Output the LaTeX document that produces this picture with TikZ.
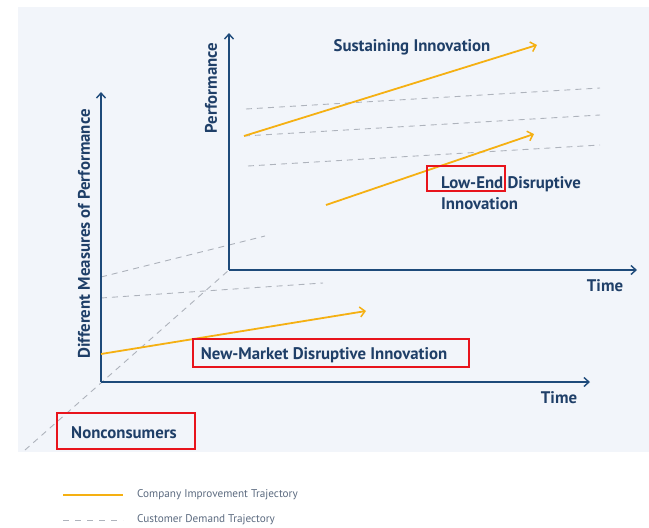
\documentclass[tikz,border=0pt]{standalone}
\usepackage{fontspec}
\setmainfont{PT Sans}
\usetikzlibrary{arrows.meta}
\definecolor{navy}{HTML}{1E4A7A}
\definecolor{txt}{HTML}{1F3F68}
\definecolor{gold}{HTML}{F5B012}
\definecolor{dashgray}{HTML}{AEB3BC}
\definecolor{panel}{HTML}{F2F5FA}
\definecolor{redbox}{HTML}{E8141C}
\definecolor{legtxt}{HTML}{5C6B80}
\begin{document}
\begin{tikzpicture}[x=1pt,y=-1pt,
  axis/.style={draw=navy,line width=1.6pt,-{Straight Barb[length=5pt,width=9pt,line width=1.4pt]}},
  traj/.style={draw=gold,line width=1.8pt,-{Straight Barb[length=5pt,width=10pt,line width=1.5pt]}},
  demand/.style={draw=dashgray,line width=0.9pt,dash pattern=on 6pt off 5pt},
  lbl/.style={font=\fontsize{16.8}{18}\selectfont\bfseries,text=txt,inner sep=0pt},
  rbox/.style={draw=redbox,line width=2pt},
  leg/.style={font=\fontsize{11.2}{13}\selectfont,text=legtxt,inner sep=0pt,anchor=west}]
\useasboundingbox (0,0) rectangle (649,528);
\fill[white] (0,0) rectangle (649,528);
\fill[panel] (18,7) rectangle (649,452);
% coordinates
\coordinate (bo) at (229,270);
\coordinate (bt) at (229,33);
\coordinate (br) at (637,270);
\coordinate (fo) at (101,382);
\coordinate (ft) at (101,92);
\coordinate (fr) at (590,382);
\coordinate (dz) at (25,450);
% demand lines
\draw[demand] (246,109) -- (600,88);
\draw[demand] (244,136) -- (600,115);
\draw[demand] (248,166) -- (600,145);
\draw[demand] (101,277) -- (265,236);
\draw[demand] (101,298) -- (323,283);
\draw[demand] (dz) -- (bo);
% axes
\draw[axis] (bo) -- (bt);
\draw[axis] (bo) -- (br);
\draw[axis] (fo) -- (ft);
\draw[axis] (fo) -- (fr);
% trajectories
\coordinate (s1) at (244,136);
\coordinate (s2) at (537,45);
\coordinate (l1) at (326,205);
\coordinate (l2) at (534,134);
\coordinate (n1) at (101,354);
\coordinate (n2) at (366,311);
\draw[traj] (s1) -- (s2);
\draw[traj] (l1) -- (l2);
\draw[traj] (n1) -- (n2);
% labels
\node[lbl] (sust) at (412,47) {Sustaining Innovation};
\node[lbl,rotate=90] (perf) at (211,88) {Performance};
\node[lbl,rotate=90] (diff) at (84,234) {Different Measures of Performance};
\node[lbl,anchor=west] (low) at (441,184) {Low-End Disruptive};
\node[lbl,anchor=west] (inno) at (441,204) {Innovation};
\node[lbl] (time1) at (605,286) {Time};
\node[lbl] (time2) at (559,398) {Time};
\node[lbl] (newm) at (324,355) {New-Market Disruptive Innovation};
\node[lbl] (nonc) at (124,433) {Nonconsumers};
% red boxes
\draw[rbox] (427,166) rectangle (505,191);
\draw[rbox] (193,339) rectangle (469,367);
\draw[rbox] (57,413) rectangle (195,449);
% legend
\coordinate (la1) at (63,495);
\coordinate (la2) at (123,495);
\coordinate (lb1) at (63,520);
\coordinate (lb2) at (123,520);
\draw[draw=gold,line width=1.6pt] (la1) -- (la2);
\draw[demand,dash pattern=on 6pt off 6pt] (lb1) -- (lb2);
\node[leg] (legA) at (137,495) {Company Improvement Trajectory};
\node[leg] (legB) at (137,520) {Customer Demand Trajectory};
\end{tikzpicture}
\end{document}
